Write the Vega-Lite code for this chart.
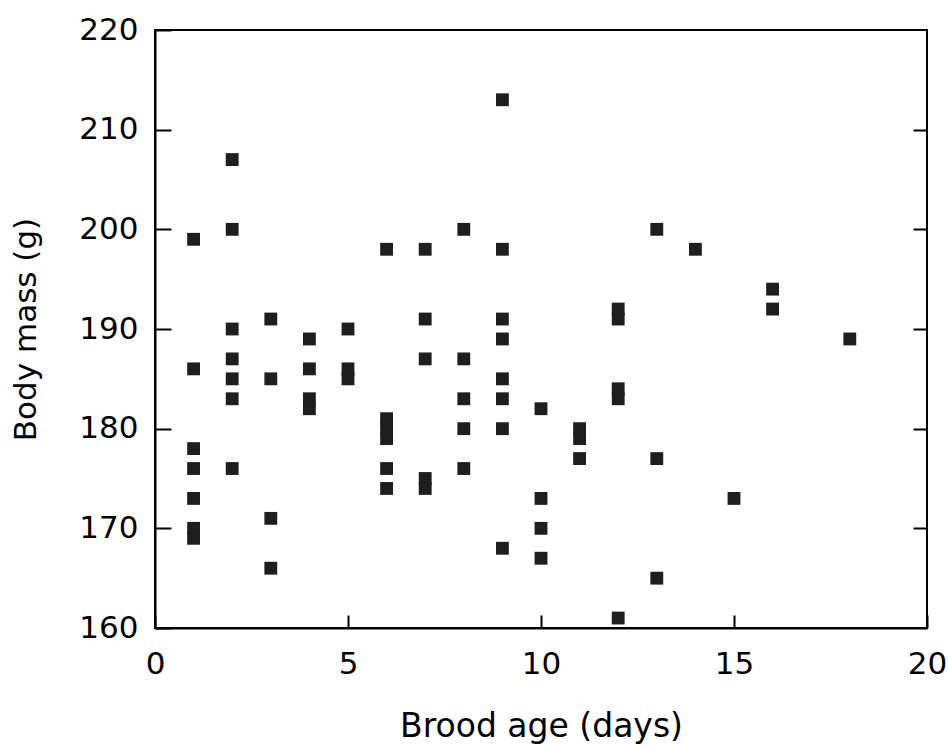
{
  "$schema": "https://vega.github.io/schema/vega-lite/v6.json",
  "autosize": {"type": "none"},
  "padding": {"left": 155, "top": 30, "right": 21, "bottom": 119},
  "width": 772,
  "height": 598,
  "background": "white",
  "config": {
    "view": {"stroke": "black", "strokeWidth": 2},
    "font": "DejaVu Sans",
    "axis": {
      "grid": false,
      "domainColor": "black",
      "domainWidth": 2,
      "tickColor": "black",
      "tickWidth": 2,
      "labelColor": "black",
      "titleColor": "black",
      "labelFont": "DejaVu Sans",
      "titleFont": "DejaVu Sans",
      "labelFontSize": 31,
      "titleFontSize": 31,
      "titleFontWeight": "normal"
    }
  },
  "data": {
    "values": [
      {"age": 1, "mass": 199}, {"age": 1, "mass": 186}, {"age": 1, "mass": 178}, {"age": 1, "mass": 176}, {"age": 1, "mass": 173}, {"age": 1, "mass": 170}, {"age": 1, "mass": 169},
      {"age": 2, "mass": 207}, {"age": 2, "mass": 200}, {"age": 2, "mass": 190}, {"age": 2, "mass": 187}, {"age": 2, "mass": 185}, {"age": 2, "mass": 183}, {"age": 2, "mass": 176},
      {"age": 3, "mass": 191}, {"age": 3, "mass": 185}, {"age": 3, "mass": 171}, {"age": 3, "mass": 166},
      {"age": 4, "mass": 189}, {"age": 4, "mass": 186}, {"age": 4, "mass": 183}, {"age": 4, "mass": 182},
      {"age": 5, "mass": 190}, {"age": 5, "mass": 186}, {"age": 5, "mass": 185},
      {"age": 6, "mass": 198}, {"age": 6, "mass": 181}, {"age": 6, "mass": 180}, {"age": 6, "mass": 179}, {"age": 6, "mass": 176}, {"age": 6, "mass": 174},
      {"age": 7, "mass": 198}, {"age": 7, "mass": 191}, {"age": 7, "mass": 187}, {"age": 7, "mass": 175}, {"age": 7, "mass": 174},
      {"age": 8, "mass": 200}, {"age": 8, "mass": 187}, {"age": 8, "mass": 183}, {"age": 8, "mass": 180}, {"age": 8, "mass": 176},
      {"age": 9, "mass": 213}, {"age": 9, "mass": 198}, {"age": 9, "mass": 191}, {"age": 9, "mass": 189}, {"age": 9, "mass": 185}, {"age": 9, "mass": 183}, {"age": 9, "mass": 180}, {"age": 9, "mass": 168},
      {"age": 10, "mass": 182}, {"age": 10, "mass": 173}, {"age": 10, "mass": 170}, {"age": 10, "mass": 167},
      {"age": 11, "mass": 180}, {"age": 11, "mass": 179}, {"age": 11, "mass": 177},
      {"age": 12, "mass": 192}, {"age": 12, "mass": 191}, {"age": 12, "mass": 184}, {"age": 12, "mass": 183}, {"age": 12, "mass": 161},
      {"age": 13, "mass": 200}, {"age": 13, "mass": 177}, {"age": 13, "mass": 165},
      {"age": 14, "mass": 198},
      {"age": 15, "mass": 173},
      {"age": 16, "mass": 194}, {"age": 16, "mass": 192},
      {"age": 18, "mass": 189}
    ]
  },
  "layer": [
    {
      "mark": {"type": "point", "shape": "square", "filled": true, "size": 165, "color": "#1e1e1e", "opacity": 1},
      "encoding": {
        "x": {
          "field": "age", "type": "quantitative",
          "scale": {"domain": [0, 20], "nice": false, "zero": false},
          "axis": {"title": "Brood age (days)", "values": [0, 5, 10, 15, 20], "tickSize": -13, "labelPadding": 34, "titlePadding": 31, "titleFontSize": 33, "labelFlush": false}
        },
        "y": {
          "field": "mass", "type": "quantitative",
          "scale": {"domain": [160, 220], "nice": false, "zero": false},
          "axis": {"title": "Body mass (g)", "values": [160, 170, 180, 190, 200, 210, 220], "tickSize": -16, "labelPadding": 33, "titlePadding": 36, "labelFlush": false}
        }
      }
    },
    {
      "mark": {"type": "point", "opacity": 0},
      "encoding": {
        "x": {"field": "age", "type": "quantitative"},
        "y": {
          "field": "mass", "type": "quantitative",
          "axis": {"orient": "right", "title": null, "labels": false, "values": [170, 180, 190, 200, 210], "tickSize": -14, "domain": false}
        }
      }
    }
  ],
  "resolve": {"axis": {"y": "independent"}}
}
